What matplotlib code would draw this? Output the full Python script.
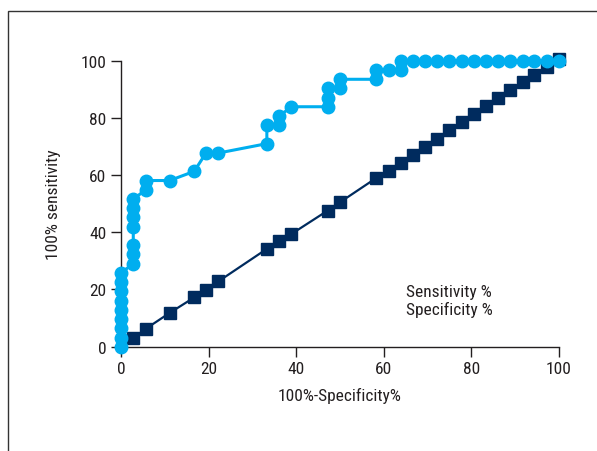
import matplotlib
matplotlib.use('Agg')
import matplotlib.pyplot as plt
import matplotlib as mpl
from matplotlib import font_manager as fm
from matplotlib.patches import Rectangle

# ROC points: x = 100% - specificity, y = sensitivity
sens_x = [0, 0, 0, 0, 0, 0, 0, 0, 0,
          2.8, 2.8, 2.8, 2.8, 2.8, 2.8, 2.8,
          5.6, 5.6, 11.1, 16.7, 19.4, 22.2,
          33.3, 33.3, 36.1, 36.1, 38.9,
          47.2, 47.2, 47.2, 50.0, 50.0,
          58.3, 58.3, 61.1, 63.9, 63.9,
          66.7, 69.4, 72.2, 75.0, 77.8, 80.6, 83.3, 86.1, 88.9, 91.7, 94.4, 97.2, 100]
sens_y = [0, 3.2, 6.5, 9.7, 12.9, 16.1, 19.4, 22.6, 25.8,
          29.0, 32.3, 35.5, 41.9, 45.2, 48.4, 51.6,
          54.8, 58.1, 58.1, 61.3, 67.7, 67.7,
          71.0, 77.4, 77.4, 80.6, 83.9,
          83.9, 87.1, 90.3, 90.3, 93.5,
          93.5, 96.8, 96.8, 96.8, 100,
          100, 100, 100, 100, 100, 100, 100, 100, 100, 100, 100, 100, 100]

spec_x = [2.8, 5.6, 11.1, 16.7, 19.4, 22.2, 33.3, 36.1, 38.9, 47.2, 50.0,
          58.3, 61.1, 63.9, 66.7, 69.4, 72.2, 75.0, 77.8, 80.6, 83.3, 86.1,
          88.9, 91.7, 94.4, 97.2, 100]
spec_y = [3.0, 6.2, 11.8, 17.2, 19.8, 22.8, 34.2, 36.9, 39.4, 47.6, 50.5,
          59.0, 61.6, 64.3, 67.0, 69.8, 72.6, 75.6, 78.4, 81.2, 84.0, 86.8,
          89.6, 92.4, 95.1, 97.8, 100.5]

light = '#00aeef'
navy = '#002b5e'
txt = '#231f20'


def pick_font():
    # the original uses a condensed face; take the narrowest one we have
    fonts = fm.fontManager.ttflist
    names = set(f.name for f in fonts)
    for n in ['Liberation Sans Narrow', 'Roboto Condensed', 'Open Sans Condensed',
              'Noto Sans Condensed']:
        if n in names:
            return n, 'normal'
    for f in fonts:
        if f.name == 'DejaVu Sans' and f.stretch in ('condensed', 'semi-condensed'):
            return 'DejaVu Sans', 'condensed'
    for f in fonts:
        if f.name == 'Noto Sans' and f.stretch in ('condensed', 'semi-condensed',
                                                    'extra-condensed'):
            return 'Noto Sans', f.stretch
    if 'Roboto' in names:
        return 'Roboto', 'normal'
    return 'DejaVu Sans', 'normal'


def init():
    fam, stretch = pick_font()
    mpl.rcParams['font.family'] = [fam, 'DejaVu Sans']
    mpl.rcParams['font.stretch'] = stretch
    mpl.rcParams['font.size'] = 12.5
    mpl.rcParams['text.color'] = txt
    mpl.rcParams['axes.labelcolor'] = txt
    mpl.rcParams['xtick.color'] = txt
    mpl.rcParams['ytick.color'] = txt
    fig = plt.figure(figsize=(5.97, 4.52), dpi=100)
    ax = fig.add_axes([0.2027, 0.2308, 0.7336, 0.6327])
    return fig, ax


def plot():
    fig, ax = init()

    # outer frame, cut off at right and bottom
    top = 1 - 12 / 452
    fig.add_artist(Rectangle((8 / 597, -0.2), 1.2, top + 0.2,
                             transform=fig.transFigure, fill=False,
                             edgecolor='#333333', linewidth=1.0))

    ax.plot(spec_x, spec_y, color=navy, marker='s', markersize=8.5,
            linewidth=1.6, clip_on=False, label='Specificity %', zorder=3)
    ax.plot(sens_x, sens_y, color=light, marker='o', markersize=9,
            linewidth=2.2, clip_on=False, label='Sensitivity %', zorder=4)

    ax.set_xlim(0, 100)
    ax.set_ylim(0, 100)
    ax.set_xticks([0, 20, 40, 60, 80, 100])
    ax.set_yticks([0, 20, 40, 60, 80, 100])
    for s in ['top', 'right']:
        ax.spines[s].set_visible(False)
    for s in ['left', 'bottom']:
        ax.spines[s].set_linewidth(1.0)
        ax.spines[s].set_color(txt)
    ax.tick_params(direction='out', length=7.5, width=1.0, pad=3, labelsize=12.5)

    ax.set_xlabel('100%-Specificity%', fontsize=12.5, labelpad=8)
    ax.set_ylabel('100% sensitivity', fontsize=12.5, labelpad=14)

    h, l = ax.get_legend_handles_labels()
    leg = ax.legend(h[::-1], l[::-1], frameon=False, handlelength=0,
                    handletextpad=0, fontsize=12.5, labelspacing=0.1,
                    loc='upper left', bbox_to_anchor=(0.615, 0.275))
    for lh in leg.legend_handles:
        lh.set_visible(False)

    fig.savefig('out.png', dpi=100)


if __name__ == '__main__':
    plot()
